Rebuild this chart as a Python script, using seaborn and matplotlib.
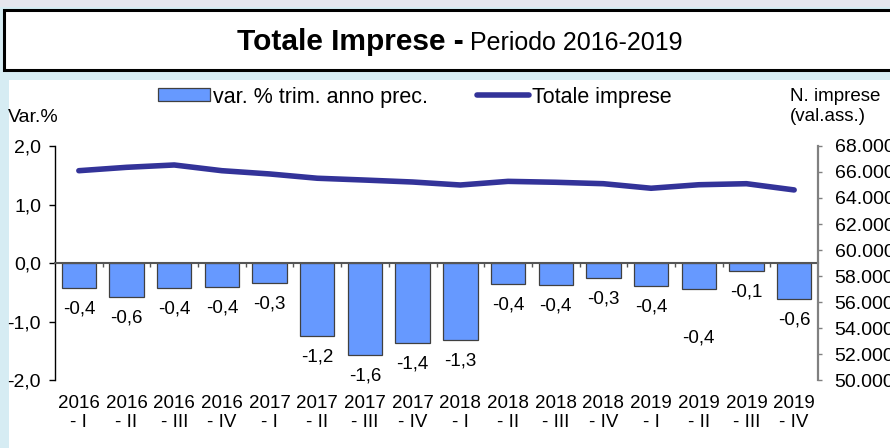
"""Totale Imprese - variazione trimestrale e stock di imprese, 2016-2019."""

import matplotlib.pyplot as plt
import numpy as np
import pandas as pd
import seaborn as sns
from matplotlib.lines import Line2D
from matplotlib.patches import Patch, Rectangle
from matplotlib.ticker import FuncFormatter

years = ['2016'] * 4 + ['2017'] * 4 + ['2018'] * 4 + ['2019'] * 4
quarters = ['I', 'II', 'III', 'IV'] * 4
var_pct = [-0.43, -0.58, -0.42, -0.41, -0.34, -1.24, -1.58, -1.36,
           -1.32, -0.36, -0.37, -0.26, -0.39, -0.44, -0.13, -0.62]
tot_imprese = [66100, 66360, 66540, 66100, 65850, 65520, 65380, 65230,
               65000, 65280, 65210, 65100, 64750, 65020, 65100, 64620]

BAR_COLOR = '#6699FF'
LINE_COLOR = '#333399'
BG_BLUE = '#D6ECF3'

df = pd.DataFrame({
    'periodo': [f'{y}\n- {q}' for y, q in zip(years, quarters)],
    'var': var_pct,
    'totale': tot_imprese,
})
df['pos'] = np.arange(len(df))


def it_num(v, decimals=1):
    return f'{v:.{decimals}f}'.replace('.', ',')


sns.set_theme(style='white')
plt.rcParams['font.family'] = ['Liberation Sans', 'DejaVu Sans']
plt.rcParams.update({'text.color': 'black', 'xtick.color': 'black', 'ytick.color': 'black'})

fig = plt.figure(figsize=(8.9, 4.48), dpi=100, facecolor=BG_BLUE)

# background panels (behind the axes)
for rect in [
    Rectangle((0, 1 - 7 / 448), 1, 7 / 448, facecolor='#E6E6EE', edgecolor='none'),
    Rectangle((9 / 890, 0), 1, 1 - 80 / 448, facecolor='white', edgecolor='none'),
    Rectangle((4 / 890, 1 - 70 / 448), 1.2, 60 / 448, facecolor='white',
              edgecolor='black', linewidth=2.2),
]:
    rect.set_transform(fig.transFigure)
    rect.set_zorder(-10)
    fig.add_artist(rect)

fig.text(464 / 890, 1 - 50 / 448, 'Totale Imprese -', ha='right', va='baseline',
         fontsize=21.5, fontweight='bold')
fig.text(470 / 890, 1 - 50 / 448, 'Periodo 2016-2019', ha='left', va='baseline', fontsize=18)

ax = fig.add_axes([55 / 890, 68 / 448, (818 - 55) / 890, (380 - 146) / 448])
ax.set_facecolor('none')

sns.barplot(data=df, x='pos', y='var', color=BAR_COLOR, width=0.72, saturation=1,
            edgecolor='#404040', linewidth=0.9, ax=ax, zorder=2)
ax.set_ylim(-2, 2)
ax.set_xlim(-0.5, len(df) - 0.5)
ax.set_yticks([-2, -1, 0, 1, 2])
ax.yaxis.set_major_formatter(FuncFormatter(lambda v, _: it_num(v)))
ax.tick_params(axis='y', direction='out', length=4, width=1, color='black',
               labelsize=14, pad=6, left=True)
ax.set_xlabel('')
ax.set_ylabel('')

for side in ['top', 'right']:
    ax.spines[side].set_visible(False)
ax.spines['left'].set_color('black')
ax.spines['left'].set_linewidth(1)
ax.spines['bottom'].set_position(('data', 0))
ax.spines['bottom'].set_color('#555555')
ax.spines['bottom'].set_linewidth(1.5)
ax.spines['bottom'].set_zorder(3)
ax.set_xticks(df['pos'])
ax.set_xticks(df['pos'][:-1] + 0.5, minor=True)
ax.tick_params(axis='x', which='major', length=0, labelbottom=False)
ax.tick_params(axis='x', which='minor', direction='out', length=3, width=1,
               color='#555555', bottom=True)

sec = ax.secondary_xaxis('bottom')
sec.set_xticks(df['pos'], df['periodo'])
sec.tick_params(length=0, pad=11, labelsize=13.5)
sec.spines['bottom'].set_visible(False)
for lab in sec.get_xticklabels():
    lab.set_linespacing(1.15)

labels = ax.bar_label(ax.containers[0], labels=[it_num(v) for v in df['var']],
                      padding=9, fontsize=13.5)
# Excel pushed one label further down
x0, y0 = labels[13].xyann
labels[13].xyann = (x0, y0 - 20)

ax2 = ax.twinx()
sns.lineplot(data=df, x='pos', y='totale', color=LINE_COLOR, linewidth=4,
             solid_capstyle='round', ax=ax2, zorder=4)
ax2.set_ylim(50000, 68000)
ax2.set_yticks(np.arange(50000, 68001, 2000))
ax2.yaxis.set_major_formatter(FuncFormatter(lambda v, _: f'{v:,.0f}'.replace(',', '.')))
ax2.tick_params(axis='y', direction='out', length=3, width=1, color='#808080',
                labelsize=14, pad=9, right=True)
ax2.set_ylabel('')
ax2.set_xlabel('')
for side in ['top', 'left', 'bottom']:
    ax2.spines[side].set_visible(False)
ax2.spines['right'].set_color('#808080')
ax2.spines['right'].set_linewidth(1.6)

fig.text(8 / 890, 1 - 122 / 448, 'Var.%', fontsize=14, va='baseline')
fig.text(790 / 890, 1 - 101 / 448, 'N. imprese', fontsize=13.5, va='baseline')
fig.text(790 / 890, 1 - 121 / 448, '(val.ass.)', fontsize=13.5, va='baseline')

handles = [
    Patch(facecolor=BAR_COLOR, edgecolor='#404040', linewidth=0.9),
    Line2D([], [], color=LINE_COLOR, linewidth=4, solid_capstyle='round'),
]
fig.legend(handles, ['var. % trim. anno prec.', 'Totale imprese'], ncol=2,
           loc='center left', bbox_to_anchor=(158 / 890, 1 - 97 / 448),
           frameon=False, fontsize=15.5, borderpad=0, borderaxespad=0,
           handlelength=2.4, handleheight=0.55, handletextpad=0.15, columnspacing=2.3)

fig.savefig('out.png', dpi=100, facecolor=fig.get_facecolor())
